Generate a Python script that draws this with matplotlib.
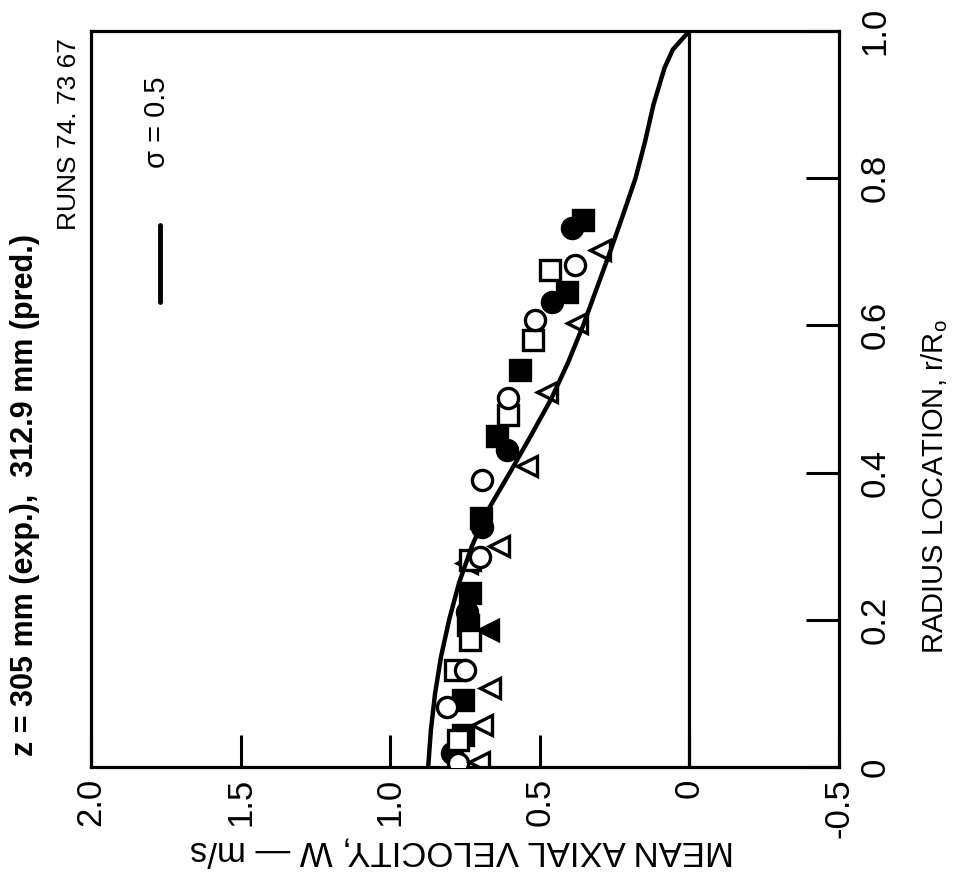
import matplotlib
matplotlib.use("Agg")
import matplotlib.pyplot as plt

plt.rcParams['font.family'] = ['Liberation Sans', 'DejaVu Sans']
plt.rcParams['mathtext.fontset'] = 'custom'
plt.rcParams['mathtext.rm'] = 'Liberation Sans'
plt.rcParams['mathtext.it'] = 'Liberation Sans'

# ---- data (radius r/Ro, mean axial velocity W m/s) ----
pred_r = [0.0, 0.05, 0.10, 0.15, 0.20, 0.25, 0.30, 0.35, 0.40, 0.45, 0.50,
          0.55, 0.60, 0.65, 0.70, 0.75, 0.80, 0.85, 0.90, 0.95, 0.975, 1.0]
pred_w = [0.873, 0.864, 0.850, 0.830, 0.803, 0.770, 0.727, 0.672, 0.600, 0.530, 0.462,
          0.405, 0.355, 0.310, 0.265, 0.222, 0.180, 0.148, 0.120, 0.083, 0.055, 0.0]

ocirc_r = [0.682, 0.607, 0.501, 0.390, 0.285, 0.132, 0.082, 0.005]
ocirc_w = [0.383, 0.517, 0.607, 0.694, 0.701, 0.751, 0.811, 0.774]

osq_r = [0.675, 0.580, 0.478, 0.281, 0.173, 0.132, 0.037]
osq_w = [0.467, 0.523, 0.607, 0.734, 0.734, 0.784, 0.774]

otri_r = [0.702, 0.603, 0.510, 0.409, 0.300, 0.107, 0.057, 0.007]
otri_w = [0.299, 0.376, 0.477, 0.543, 0.637, 0.667, 0.694, 0.704]

fsq_r = [0.743, 0.645, 0.539, 0.450, 0.338, 0.236, 0.193, 0.091, 0.043]
fsq_w = [0.356, 0.410, 0.567, 0.644, 0.697, 0.734, 0.741, 0.757, 0.757]

fcirc_r = [0.732, 0.632, 0.431, 0.326, 0.211, 0.019]
fcirc_w = [0.393, 0.460, 0.610, 0.694, 0.744, 0.794]

ftri_r = [0.186, 0.277]
ftri_w = [0.674, 0.744]

vel_ticks = [2.0, 1.5, 1.0, 0.5, 0.0, -0.5]
vel_labels = ['2.0', '1.5', '1.0', '0.5', '0', '-0.5']
rad_ticks = [0.0, 0.2, 0.4, 0.6, 0.8, 1.0]
rad_labels = ['0', '0.2', '0.4', '0.6', '0.8', '1.0']

fig = plt.figure(figsize=(9.63, 8.92), dpi=100)
ax = fig.add_axes([0.0945, 0.1401, 0.7767, 0.8251])

ms = 14.5
mew = 2.4
ax.plot(fsq_w, fsq_r, 's', ms=ms, mfc='black', mec='black', mew=mew, ls='none', zorder=3)
ax.plot(fcirc_w, fcirc_r, 'o', ms=ms, mfc='black', mec='black', mew=mew, ls='none', zorder=3)
ax.plot(ftri_w, ftri_r, '<', ms=ms, mfc='black', mec='black', mew=mew, ls='none', zorder=3)
ax.plot(osq_w, osq_r, 's', ms=ms, mfc='white', mec='black', mew=mew, ls='none', zorder=4)
ax.plot(ocirc_w, ocirc_r, 'o', ms=ms, mfc='white', mec='black', mew=mew, ls='none', zorder=4)
ax.plot(otri_w, otri_r, '<', ms=ms, mfc='none', mec='black', mew=mew, ls='none', zorder=4)
ax.plot(pred_w, pred_r, '-', color='black', lw=3.2, zorder=5,
        solid_joinstyle='round', solid_capstyle='round')

ax.axvline(0.0, color='black', lw=2.3, zorder=2)

ax.set_xlim(2.0, -0.5)
ax.set_ylim(0.0, 1.0)

ax.set_xticks(vel_ticks)
ax.set_xticklabels(vel_labels)
ax.set_yticks(rad_ticks)
ax.set_yticklabels(rad_labels)
ax.yaxis.tick_right()
ax.tick_params(axis='x', direction='in', length=23, width=2.2, labelsize=25,
               pad=8, labelrotation=90, top=False, bottom=True)
ax.tick_params(axis='y', direction='in', length=24, width=2.2, labelsize=25,
               pad=14, labelrotation=90, left=False, right=True)
for lab in ax.get_yticklabels():
    lab.set_va('center')
    lab.set_ha('left')
for s in ax.spines.values():
    s.set_linewidth(2.3)

# legend (rotated)
ax.plot([0.0922, 0.0922], [0.632, 0.736], transform=ax.transAxes,
        color='black', lw=3.5, solid_capstyle='round')
ax.text(0.088, 0.876, 'σ = 0.5', transform=ax.transAxes, rotation=90,
        ha='center', va='center', fontsize=21)

fig.text(0.026, 0.445, 'z = 305 mm (exp.),  312.9 mm (pred.)', rotation=90,
         ha='center', va='center', fontsize=22, fontweight='bold')
fig.text(0.0715, 0.85, 'RUNS 74. 73 67', rotation=90, ha='center', va='center',
         fontsize=19)
fig.text(0.480, 0.046, 'MEAN AXIAL VELOCITY, W — m/s', rotation=180,
         ha='center', va='center', fontsize=25)
fig.text(0.970, 0.455, r'RADIUS LOCATION, r/R$_\mathrm{o}$', rotation=90,
         ha='center', va='center', fontsize=21)

fig.savefig('out.png', dpi=100)
